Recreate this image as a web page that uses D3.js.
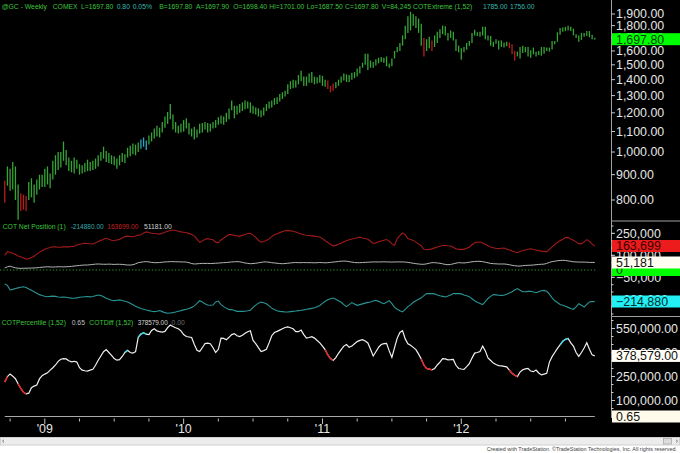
<!DOCTYPE html>
<html><head><meta charset="utf-8">
<script src="https://cdn.jsdelivr.net/npm/d3@7"></script>
<style>
html,body{margin:0;padding:0;background:#000;}
svg{display:block;font-family:"Liberation Sans",Arial,sans-serif;}
</style></head><body>
<svg id="c" width="680" height="453"></svg>
<script>
// ---- weekly @GC bars (Sep 2008 .. Dec 2012) ----
const lo = [790,855,835,840,800,730,760,765,760,800, 810,790,820,840,850,850,860,845,880,900,
 920,930,960,940,915,910,905,925,900,905, 910,915,915,920,925,935,960,970,955,950,
 945,940,925,940,955,950,975,980,990,985, 1000,1015,1025,1010,1035,1050,1065,1075,1070,1095,
 1120,1140,1165,1110,1095,1090,1095,1100,1115,1085, 1075,1060,1070,1090,1095,1110,1095,1100,1115,1120,
 1135,1140,1135,1150,1165,1215,1170,1190,1200,1210, 1220,1225,1200,1195,1190,1180,1175,1185,1210,1225,
 1230,1245,1250,1265,1280,1295,1310,1340,1345,1350, 1370,1390,1360,1360,1380,1380,1370,1375,1380,1360,
 1355,1340,1320,1330,1345,1360,1380,1395,1385,1385, 1400,1410,1420,1440,1480,1500,1465,1480,1480,1495,
 1510,1520,1515,1490,1480,1490,1545,1590,1600,1640, 1690,1740,1760,1800,1780,1740,1640,1560,1600,1620,
 1600,1630,1660,1700,1730,1720,1680,1700,1680,1600, 1590,1535,1590,1610,1640,1660,1720,1715,1710,1720,
 1690,1680,1640,1630,1655,1610,1630,1625,1635,1620, 1575,1530,1560,1545,1585,1590,1560,1550,1575,1560,
 1570,1565,1580,1600,1595,1610,1650,1670,1725,1750, 1755,1760,1755,1720,1700,1670,1685,1710,1715,1705,
 1690,1687.5];
const hi = [875,935,925,955,935,860,825,820,815,870, 885,860,880,900,900,925,935,905,960,985,
 1000,1000,1050,1010,975,960,975,965,945,940, 950,965,955,960,970,985,1000,1025,1005,995,
 985,980,970,985,995,990,1020,1030,1040,1035, 1045,1060,1070,1055,1080,1095,1115,1130,1120,1150,
 1180,1205,1250,1190,1150,1130,1140,1160,1170,1145, 1115,1125,1110,1140,1145,1150,1145,1140,1150,1160,
 1175,1185,1180,1200,1225,1270,1240,1240,1250,1260, 1270,1265,1260,1240,1230,1225,1215,1230,1250,1265,
 1270,1285,1290,1310,1320,1330,1370,1390,1400,1395, 1430,1460,1420,1420,1440,1450,1420,1415,1430,1425,
 1400,1395,1360,1375,1385,1400,1420,1440,1435,1430, 1445,1450,1475,1490,1515,1580,1580,1530,1520,1540,
 1550,1555,1550,1560,1510,1545,1600,1630,1660,1720, 1800,1880,1920,1900,1880,1860,1815,1700,1690,1710,
 1680,1720,1750,1770,1800,1795,1740,1760,1750,1690, 1640,1620,1630,1660,1675,1740,1765,1745,1750,1790,
 1790,1720,1715,1670,1690,1680,1680,1665,1670,1665, 1650,1600,1595,1630,1640,1630,1630,1605,1625,1595,
 1600,1630,1630,1625,1625,1675,1675,1745,1780,1785, 1790,1798,1790,1775,1730,1720,1740,1740,1755,1755,
 1725,1701];
const redBars = [0,6,7,8,121,122,123,157,160,189,190,191];
const cyanBars = [51,52,53];
const priceTicks = [800,900,1000,1100,1200,1300,1400,1500,1600,1700,1800,1900];
const lastPrice = 1697.80;

// ---- COT Net Position (thousands of contracts) ----
const specNet = [100,125,120,114,105,95,90,82,74,78, 86,94,108,122,132,142,149,153,158,158,
 155,156,158,159,158,160,162,170,176,179, 182,181,179,177,185,195,202,210,216,210,
 203,201,205,209,218,228,231,229,227,232, 237,241,252,260,256,251,249,247,245,251,
 258,264,269,273,269,264,260,257,254,250, 243,232,210,188,197,210,214,210,206,190,
 186,205,217,230,243,240,236,233,231,236, 242,249,251,238,222,203,190,195,201,212,
 228,240,248,255,262,268,270,267,264,259, 252,246,240,237,235,233,231,228,225,214,
 200,188,176,165,168,175,182,192,200,206, 211,215,220,224,218,215,210,196,181,185,
 192,198,203,208,197,178,168,214,235,252, 240,214,208,202,190,178,164,141,140,141,
 144,151,157,162,167,167,165,164,155,145, 141,141,141,148,155,172,186,189,191,184,
 176,165,157,152,147,146,148,150,143,136, 130,123,118,126,133,137,141,145,140,136,
 132,129,127,123,140,158,174,188,200,210, 221,222,212,203,192,180,178,192,207,195,
 176,163.699];
const smallNet = [14,22,26, 20,15,12,11,12, 12,13,13,14,15, 17,19,21,22,21, 20,21,22,22,21,22,23,
 25,27,29,31,33,34,34, 36,38,40,41,40,39, 39,40,39,38,39,39,38, 36,34,34,36,42,50,
 53,56,57,55,52,50, 50,51,53,55,56,57, 57,56,56,55,55,54, 50,44,41,42,
 44,45,45,45,44,45,46,47, 49,50,51,53,55,56,57,56, 52,48,45,43,44,46,
 49,52,55,55,53,50,48, 46,44,43,44,46,48,50, 51,50,50,51,50,50,50,49,
 50,51,50,49,50,52,54,56, 58,60,61,60,57,54,51, 50,50,51,52,53,54,55,55,
 55,55,56,55,55,54,55,55, 55,55,54,52,49,46,43, 41,39,39,42,46,50,50,
 48,46,42,38,36,38,42, 47,50,49,48,50,53,56, 58,59,59,57,53,49,45,
 43,42,41,41,41,39,36, 32,29,27,27,29,31,32, 33,34,36,38,39,40,45,
 52,57,60,63,65,66,65, 62,59,56,55,54,54, 54,53,52,52,51.181];
const commNet = [-95,-105,-136,-132,-126,-122,-118,-114,-120,-130, -138,-148,-158,-168,-174,-179,-182,-180,-178,-180,
 -184,-186,-185,-186,-189,-192,-193,-190,-186,-184, -182,-181,-183,-181,-176,-171,-174,-183,-192,-200,
 -206,-209,-206,-204,-208,-213,-218,-227,-237,-247, -256,-263,-268,-273,-277,-281,-284,-281,-277,-284,
 -291,-295,-293,-291,-287,-281,-277,-272,-268,-262, -255,-245,-228,-210,-219,-230,-239,-240,-239,-218,
 -212,-236,-250,-260,-270,-270,-276,-282,-281,-282, -281,-278,-274,-255,-240,-226,-219,-224,-230,-245,
 -260,-270,-278,-282,-284,-286,-286,-284,-282,-280, -277,-275,-272,-268,-265,-262,-258,-250,-242,-228,
 -213,-203,-196,-191,-199,-210,-220,-236,-250,-236, -222,-232,-241,-236,-231,-226,-221,-218,-211,-207,
 -214,-224,-230,-220,-209,-230,-255,-268,-278,-286, -268,-250,-238,-220,-210,-200,-190,-175,-161,-160,
 -161,-163,-170,-176,-180,-184,-178,-170,-161,-160, -161,-163,-170,-176,-182,-196,-210,-220,-228,-236,
 -215,-194,-180,-168,-170,-172,-173,-172,-165,-157, -148,-137,-127,-138,-148,-148,-146,-145,-150,-155,
 -148,-141,-139,-145,-165,-190,-210,-222,-235,-240, -248,-255,-262,-268,-252,-230,-240,-252,-235,-218,
 -216,-214.88];
const netTicks = [250,100,-50,-200];

// ---- COTDiff (thousands) and COTPercentile ----
const cotDiff = [215,250,266,252,236,205,175,152,141,146, 180,190,197,235,255,265,273,290,305,322,
 345,358,362,360,348,342,345,340,305,290, 286,284,290,295,320,352,378,405,418,400,
 382,362,352,355,375,400,414,400,396,405, 495,515,523,515,512,538,548,535,530,528,
 532,555,572,563,555,548,535,512,500,497, 494,450,414,406,430,456,458,455,430,400,
 420,490,488,480,495,512,518,505,500,508, 520,530,536,475,455,430,406,412,420,460,
 505,525,532,540,548,556,560,555,548,530, 530,540,512,490,494,499,490,475,460,440,
 418,385,362,350,368,395,418,440,450,432, 440,455,468,476,480,472,460,420,378,405,
 432,450,455,457,410,370,430,490,525,536, 485,455,445,432,418,390,360,320,300,296,
 292,300,322,340,362,360,354,355,357,320, 300,297,295,312,330,365,396,400,406,440,
 410,366,350,334,325,318,316,313,310,290, 270,258,249,278,292,298,300,284,280,290,
 272,260,265,270,340,374,400,426,448,470, 482,488,460,440,400,376,400,428,461,420,
 385,378.579];
const diffLow = [0,1,6,7,8,121,122,123,157,158,159,160,190,191,192];
const diffHigh = [46,51,52,53,209,210,211];
const pctWeeks = [0,20,40,60,80,100,120,140,160,180,200,221];
const pctValues = [0.10,0.55,0.80,0.95,0.60,0.85,0.15,0.50,0.05,0.70,0.20,0.65];
const diffTicks = [550,400,250,100];

const yearIdx = [15,67,119,171];
const yearLabels = ["'09","'10","'11","'12"];
const quarterIdx = [2,15,28,41,54,67,80,93,106,119,132,145,158,171,184,197,210];

// ---------------- drawing ----------------
const svg = d3.select('#c');
const N = hi.length;
const AX = 611;
const GREEN='#3cc43c', TEAL='#35b8b0';
const FS = 6.8;

svg.append('rect').attr('width',680).attr('height',453).attr('fill','#000');

const x = d3.scaleLinear().domain([0, N-1]).range([4.75, 594.8]);
const yP = d3.scaleLog().domain([800,1900]).range([200,14]);
const y2 = d3.scaleLinear().domain([-214.88,163.699]).range([301.5,246]);
const y3 = d3.scaleLinear().domain([100,550]).range([400.5,328.5]);

const defs = svg.append('defs');
[['c1',0,0,600,221],['c2',0,221,600,95.5],['c3',0,316.5,600,101.5]].forEach(c=>{
  defs.append('clipPath').attr('id',c[0]).append('rect')
    .attr('x',c[1]).attr('y',c[2]).attr('width',c[3]).attr('height',c[4]);
});

// price bars
const barColor = i => redBars.includes(i) ? '#b81c1c' : (cyanBars.includes(i) ? '#2aa6c4' : '#36a536');
svg.append('g').attr('clip-path','url(#c1)').selectAll('line').data(d3.range(N)).join('line')
  .attr('x1',i=>x(i)).attr('x2',i=>x(i))
  .attr('y1',i=>yP(hi[i])).attr('y2',i=>yP(lo[i]))
  .attr('stroke',barColor).attr('stroke-width',1.3);

// panel 2 lines
const g2 = svg.append('g').attr('clip-path','url(#c2)');
g2.append('line').attr('x1',0).attr('x2',596).attr('y1',y2(0)).attr('y2',y2(0))
  .attr('stroke','#2a9a2a').attr('stroke-dasharray','1.3,2').attr('stroke-width',1);
const line2 = arr => d3.line().x((d,i)=>x(i)).y(d=>y2(d))(arr);
g2.append('path').attr('d',line2(specNet)).attr('fill','none').attr('stroke','#a01a1a').attr('stroke-width',1.1);
g2.append('path').attr('d',line2(smallNet)).attr('fill','none').attr('stroke','#b4b4b4').attr('stroke-width',1);
g2.append('path').attr('d',line2(commNet)).attr('fill','none').attr('stroke','#2a9494').attr('stroke-width',1.1);

// panel 3 lines
const g3 = svg.append('g').attr('clip-path','url(#c3)');
g3.append('path').attr('d', d3.line().x((d,k)=>x(pctWeeks[k])).y(d=>y3(d/1000))(pctValues))
  .attr('fill','none').attr('stroke','#a8a8a8').attr('stroke-width',1.2);
const diffLine = d3.line().x(i=>x(i)).y(i=>y3(cotDiff[i]));
g3.append('path').attr('d',diffLine(d3.range(cotDiff.length))).attr('fill','none')
  .attr('stroke','#f0f0f0').attr('stroke-width',1.2);
function runs(list){const r=[];list.forEach(i=>{const l=r[r.length-1];if(l&&l[1]===i-1)l[1]=i;else r.push([i,i]);});return r;}
[[diffLow,'#e52020'],[diffHigh,'#3ad6e6']].forEach(([lst,col])=>{
  runs(lst).forEach(([a,b])=>{
    const s=Math.max(0,a-1), e=Math.min(cotDiff.length-1,b);
    g3.append('path').attr('d',diffLine(d3.range(s,e+1))).attr('fill','none')
      .attr('stroke',col).attr('stroke-width',1.4);
  });
});

// header texts
function texts(arr, y){
  arr.forEach(([tx,t,c,w])=>{
    const el = svg.append('text').attr('x',tx).attr('y',y).attr('font-size',FS).attr('fill',c).text(t);
    if(w) el.attr('textLength',w).attr('lengthAdjust','spacingAndGlyphs');
  });
}
texts([[1.7,'@GC - Weekly',GREEN],[52.7,'COMEX',GREEN],[81,'L=1697.80',GREEN],[116.7,'0.80',TEAL],
  [132.7,'0.05%',TEAL],[159.3,'B=1697.80',GREEN],[196,'A=1697.90',GREEN],[233.3,'O=1698.40',GREEN],
  [269.3,'Hi=1701.00',GREEN],[306.7,'Lo=1687.50',GREEN],[345,'C=1697.80',GREEN],[381.7,'V=84,245',GREEN],
  [413,'COTExtreme (1,52)',GREEN],[483,'1785.00',TEAL],[510,'1756.00',TEAL]], 8.5);
texts([[2.7,'COT Net Position (1)',GREEN],[70.7,'-214880.00','#3aa8a8',33],[107.3,'163699.00','#c42020',31],
  [144,'51181.00','#d0d0d0']], 228.5);
texts([[1.7,'COTPercentile (1,52)',GREEN],[71.7,'0.65','#c0c0c0'],[89.3,'COTDiff (1,52)',GREEN],
  [137.7,'378579.00','#d8d8d8',30],[171.5,'0.00','#707070']], 324.5);

// right axis
const ax = svg.append('g');
ax.append('line').attr('x1',AX+0.5).attr('x2',AX+0.5).attr('y1',0).attr('y2',418).attr('stroke','#a0a0a0');
[221,316.5].forEach(yy=>ax.append('line').attr('x1',AX).attr('x2',680).attr('y1',yy).attr('y2',yy).attr('stroke','#a0a0a0'));
function tickSet(vals, sc, fmt){
  vals.forEach(v=>{
    const yy = sc(v);
    ax.append('line').attr('x1',AX).attr('x2',AX+4).attr('y1',yy).attr('y2',yy).attr('stroke','#c8c8c8');
    ax.append('text').attr('x',AX+5).attr('y',yy+4.4).attr('font-size',12.4).attr('fill','#e6e6e6').text(fmt(v));
  });
}
function minor(lo_,hi_,step,sc,ymin,ymax){
  for(let v=lo_; v<=hi_; v+=step){const yy=sc(v); if(yy>ymin+2&&yy<ymax-2)
    ax.append('line').attr('x1',AX).attr('x2',AX+2.5).attr('y1',yy).attr('y2',yy).attr('stroke','#c8c8c8');}
}
tickSet(priceTicks, yP, d3.format(',.2f'));
minor(-300,300,50,y2,221,316.5);
tickSet(netTicks, y2, v=>d3.format(',')(v*1000));
minor(0,600,50,y3,316.5,418);
tickSet(diffTicks, y3, v=>d3.format(',.2f')(v*1000));

function box(yy, txt, bg, fg){
  ax.append('rect').attr('x',AX+1).attr('y',yy-6).attr('width',680-AX-1).attr('height',12).attr('fill',bg);
  ax.append('text').attr('x',AX+5).attr('y',yy+4.4).attr('font-size',12.4).attr('fill',fg).text(txt);
}
box(yP(lastPrice)+1, d3.format(',.2f')(lastPrice), '#00ff00', '#0b3d0b');
box(y2(0), '0', '#00ff00', '#0b3d0b');
box(y2(smallNet[N-1]), d3.format(',')(Math.round(smallNet[N-1]*1000)), '#fffcf0', '#111');
box(y2(specNet[N-1]), d3.format(',')(Math.round(specNet[N-1]*1000)), '#ec1c1c', '#3a0000');
box(y2(commNet[N-1]), d3.format(',')(Math.round(commNet[N-1]*1000)), '#22f0f4', '#002a2a');
box(y3(cotDiff[N-1]), d3.format(',.2f')(cotDiff[N-1]*1000), '#fffdf5', '#111');
box(y3(pctValues[pctValues.length-1]/1000), d3.format('.2f')(pctValues[pctValues.length-1]), '#fffbea', '#111');

// x axis
const xa = svg.append('g');
quarterIdx.forEach(i=>{
  const major = yearIdx.includes(i);
  xa.append('line').attr('x1',x(i)).attr('x2',x(i)).attr('y1',418.5).attr('y2',major?424:421.5)
    .attr('stroke','#c0c0c0');
});
yearIdx.forEach((i,k)=>xa.append('text').attr('x',x(i)).attr('y',433).attr('text-anchor','middle')
  .attr('font-size',12.4).attr('fill','#e6e6e6').text(yearLabels[k]));

// scrollbar + footer
svg.append('rect').attr('x',0).attr('y',437).attr('width',680).attr('height',16).attr('fill','#fff');
svg.append('rect').attr('x',0.5).attr('y',437.5).attr('width',679).attr('height',7.5).attr('fill','#ececec').attr('stroke','#d0d0d0');
svg.append('path').attr('d','M4,439.8 L2.5,441.2 L4,442.6').attr('stroke','#606060').attr('fill','none').attr('stroke-width',0.8);
svg.append('path').attr('d','M676,439.8 L677.6,441.2 L676,442.6').attr('stroke','#606060').attr('fill','none').attr('stroke-width',0.8);
svg.append('rect').attr('x',663.5).attr('y',438.5).attr('width',8).attr('height',5.5).attr('fill','#dcdcdc').attr('stroke','#9a9a9a').attr('stroke-width',0.6);
svg.append('text').attr('x',677).attr('y',450.5).attr('text-anchor','end').attr('font-size',5.4)
  .attr('fill','#404040')
  .text('Created with TradeStation. \u00A9TradeStation Technologies, Inc. All rights reserved.');
</script>
</body></html>
